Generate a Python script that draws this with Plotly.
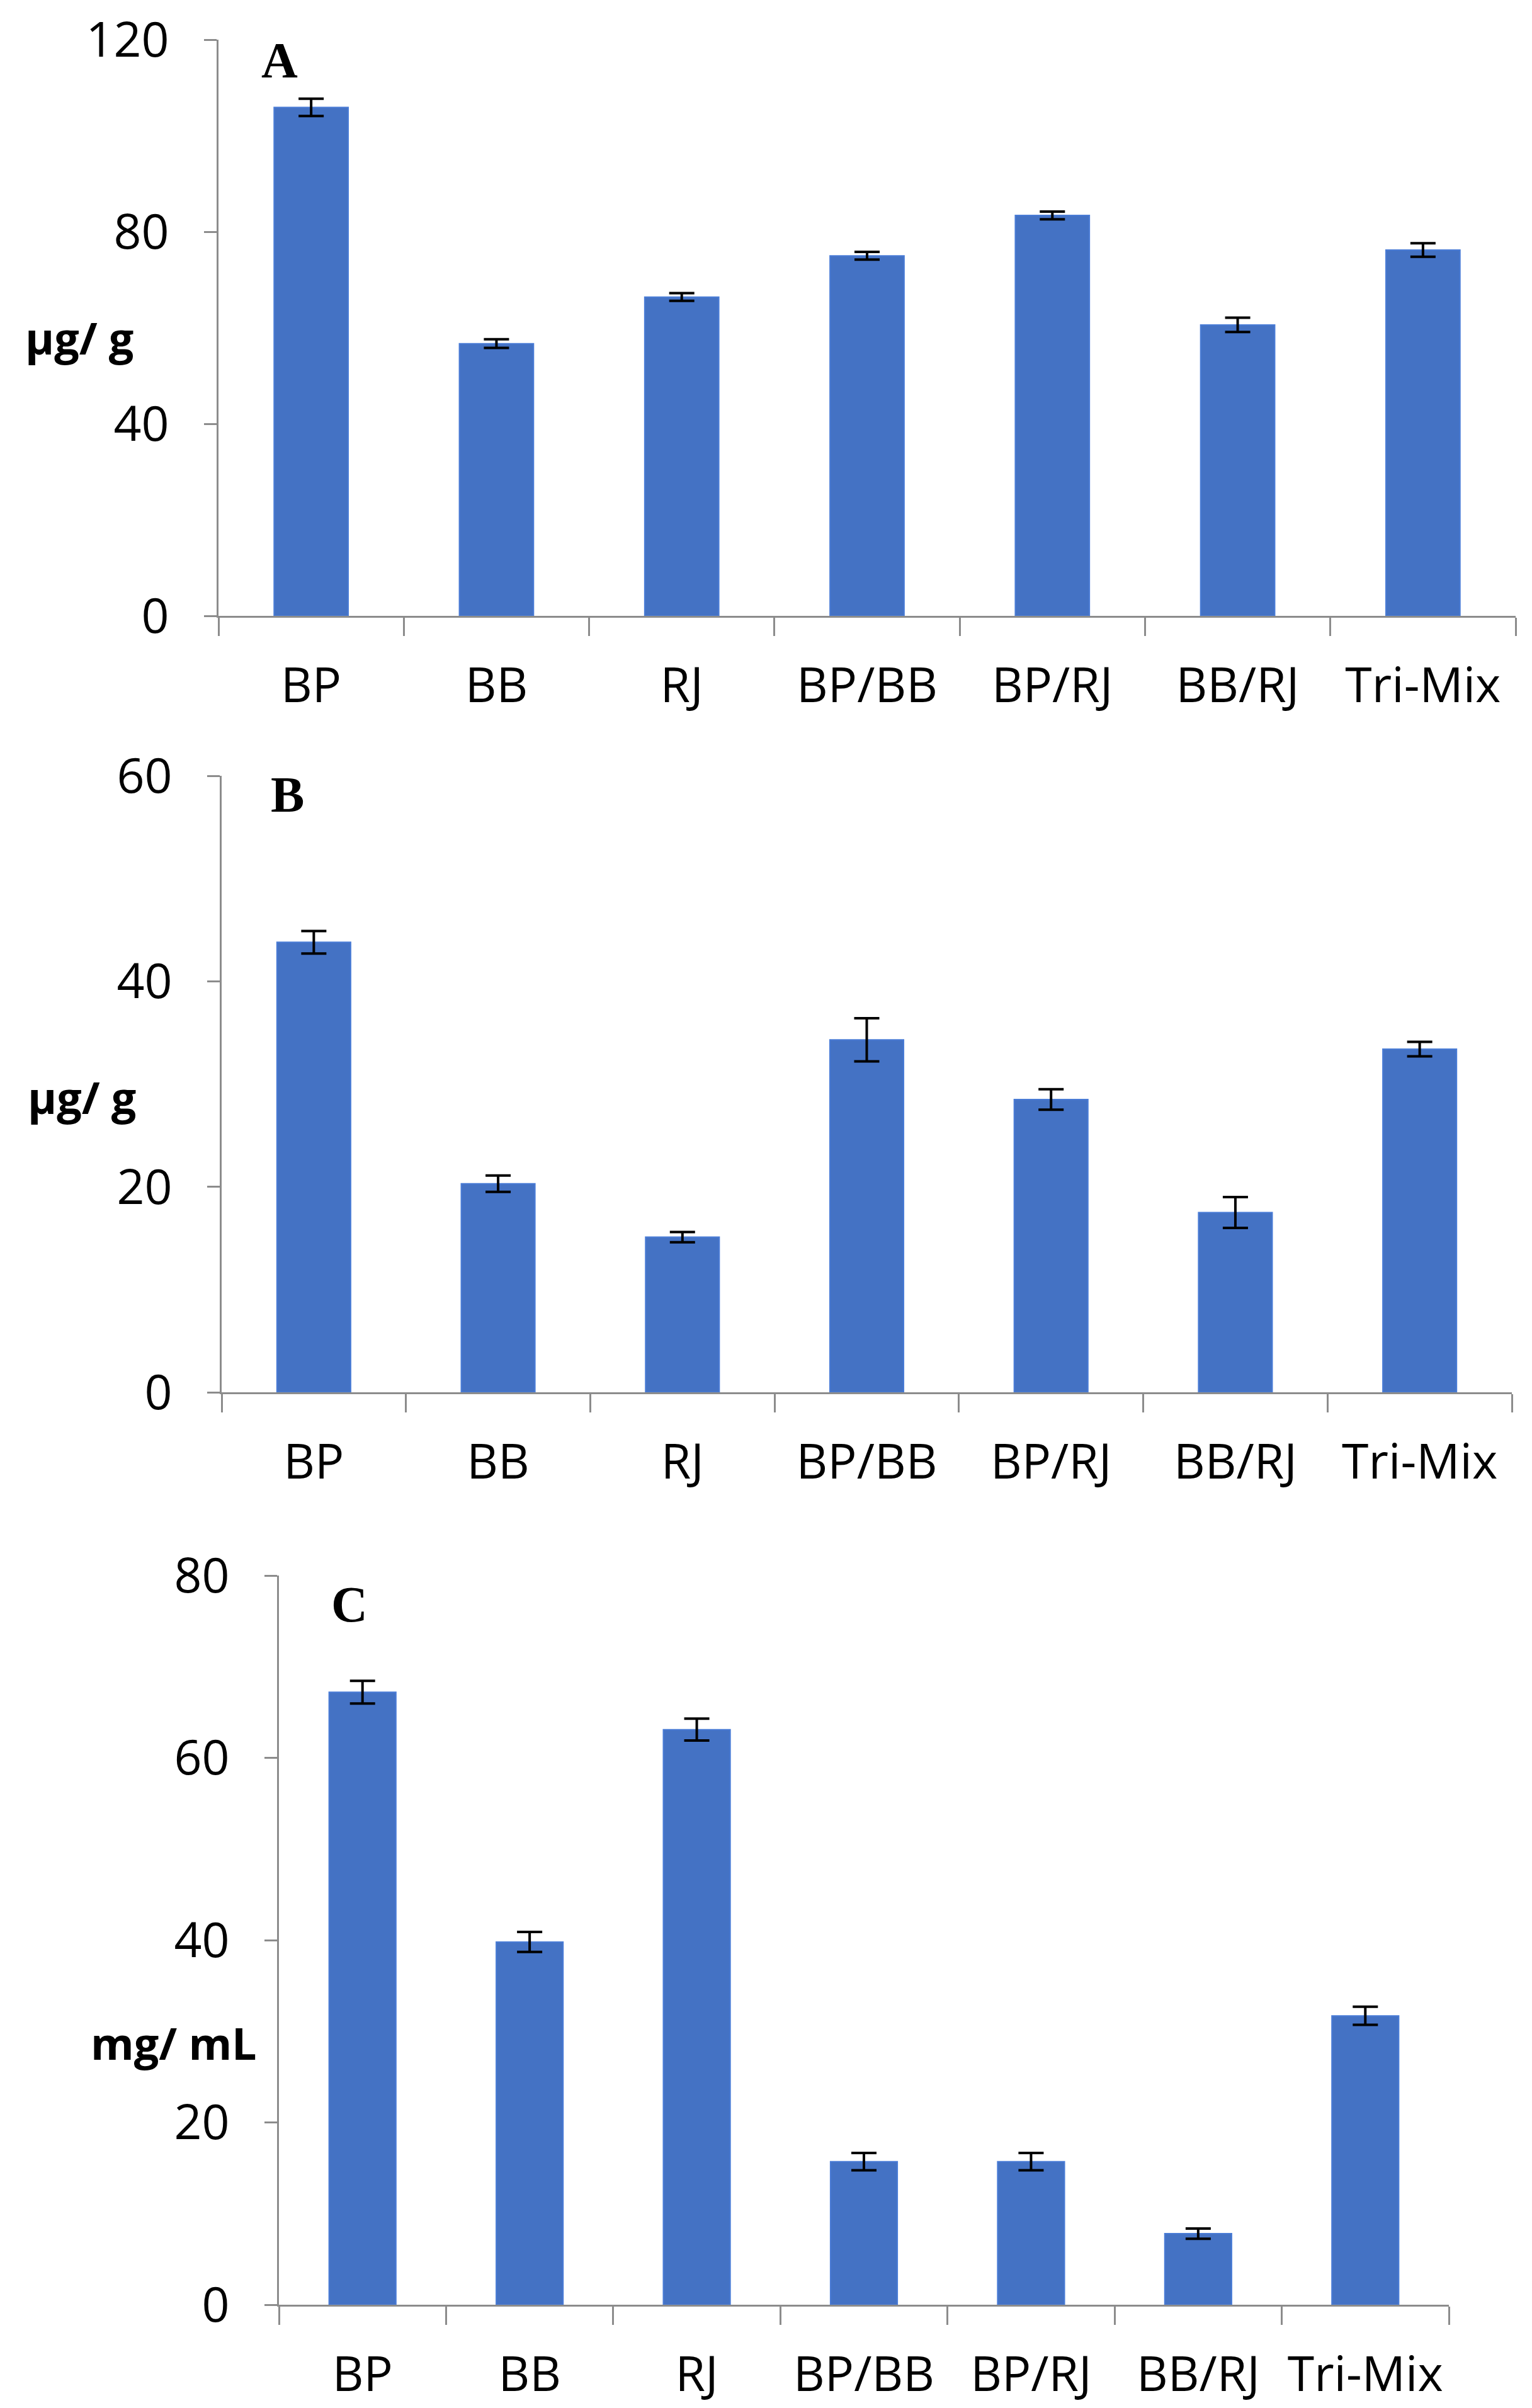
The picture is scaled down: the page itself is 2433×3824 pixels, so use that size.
import plotly.graph_objects as go

categories = ["BP", "BB", "RJ", "BP/BB", "BP/RJ", "BB/RJ", "Tri-Mix"]

values_a = [105.9, 56.7, 66.4, 75.0, 83.4, 60.6, 76.2]
errors_a = [1.8, 0.9, 0.8, 0.8, 0.8, 1.5, 1.4]

values_b = [43.8, 20.3, 15.1, 34.3, 28.5, 17.5, 33.4]
errors_b = [1.1, 0.8, 0.5, 2.1, 1.0, 1.5, 0.7]

values_c = [67.2, 39.8, 63.1, 15.7, 15.7, 7.8, 31.7]
errors_c = [1.25, 1.1, 1.2, 0.95, 0.95, 0.56, 1.0]

W, H = 2433, 3824
BAR = "#4472C4"
AXC = "#8C8C8C"
TICKFONT = dict(family="Open Sans", size=77, color="#000000")

panels = [
    dict(vals=values_a, errs=errors_a, x=(339, 2399), y=(55, 970), rng=[0, 120], dt=40,
         title="µg/ g", tpos=(118, 528), letter="A", lpos=(436, 88)),
    dict(vals=values_b, errs=errors_b, x=(344, 2393), y=(1224, 2203), rng=[0, 60], dt=20,
         title="µg/ g", tpos=(122, 1734), letter="B", lpos=(448, 1254)),
    dict(vals=values_c, errs=errors_c, x=(435, 2293), y=(2494, 3652), rng=[0, 80], dt=20,
         title="mg/ mL", tpos=(268, 3236), letter="C", lpos=(547, 2540)),
]

fig = go.Figure()
annotations = []
for i, p in enumerate(panels):
    n = "" if i == 0 else str(i + 1)
    fig.add_trace(go.Bar(
        x=categories, y=p["vals"],
        marker=dict(color=BAR, line=dict(color="#4A7CD6", width=2)),
        error_y=dict(type="data", array=p["errs"], visible=True,
                     color="#000000", thickness=4, width=20),
        xaxis="x" + n, yaxis="y" + n, showlegend=False,
    ))
    fig.update_layout(**{
        "xaxis" + n: dict(
            domain=[p["x"][0] / W, p["x"][1] / W], anchor="y" + n,
            type="category", showline=True, linecolor=AXC, linewidth=3,
            ticks="outside", tickson="boundaries", ticklen=29, tickwidth=3,
            tickcolor=AXC, showgrid=False, tickfont=TICKFONT,
            ticklabelstandoff=42, zeroline=False, automargin=False,
            ticklabeloverflow="allow",
        ),
        "yaxis" + n: dict(
            domain=[1 - p["y"][1] / H, 1 - p["y"][0] / H], anchor="x" + n,
            range=p["rng"], dtick=p["dt"], showline=True, linecolor=AXC,
            linewidth=3, ticks="outside", ticklen=20, tickwidth=3,
            tickcolor=AXC, showgrid=False, zeroline=False, tickfont=TICKFONT,
            ticklabelstandoff=40, automargin=False, ticklabeloverflow="allow",
        ),
    })
    annotations.append(dict(
        text=p["title"], xref="paper", yref="paper",
        x=p["tpos"][0] / W, y=1 - p["tpos"][1] / H,
        xanchor="center", yanchor="middle", showarrow=False,
        font=dict(family="Open Sans", size=70, color="#000000", weight="bold"),
    ))
    annotations.append(dict(
        text=p["letter"], xref="paper", yref="paper",
        x=p["lpos"][0] / W, y=1 - p["lpos"][1] / H,
        xanchor="center", yanchor="middle", showarrow=False,
        font=dict(family="Liberation Serif", size=80, color="#000000", weight="bold"),
    ))

fig.update_layout(
    width=W, height=H,
    margin=dict(l=0, r=0, t=0, b=0, autoexpand=False),
    paper_bgcolor="white", plot_bgcolor="white",
    bargap=0.6,
    annotations=annotations,
)

fig.write_html("out.html")
